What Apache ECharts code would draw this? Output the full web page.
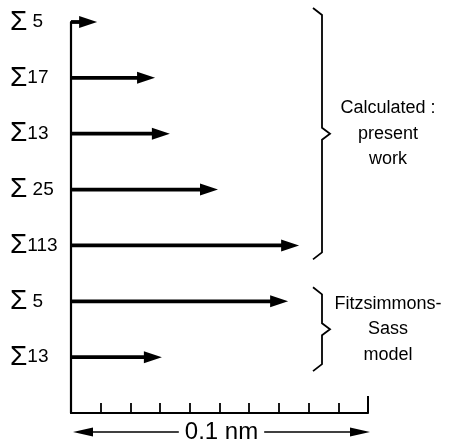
<!DOCTYPE html>
<html>
<head>
<meta charset="utf-8">
<script src="https://cdn.jsdelivr.net/npm/echarts@6/dist/echarts.min.js"></script>
<style>
  html, body { margin: 0; padding: 0; background: #fff; }
  #chart { width: 462px; height: 444px; }
</style>
</head>
<body>
<div id="chart"></div>
<script>
// Boundary types, top to bottom
const boundaries = ['Σ 5', 'Σ17', 'Σ13', 'Σ 25', 'Σ113', 'Σ 5', 'Σ13'];
// Rigid-body translation for each boundary, in nm
const shifts = [0.0088, 0.0283, 0.0333, 0.0495, 0.0768, 0.0731, 0.0306];
// Bracketed groups of rows and their captions
const groupFirstRow = [0, 5];
const groupLastRow = [4, 6];
const groupCaptions = [
  ['Calculated :', 'present', 'work'],
  ['Fitzsimmons-', 'Sass', 'model']
];
// Scale bar
const scaleMax = 0.1;
const scaleStep = 0.01;
const scaleLabel = '0.1 nm';

const FONT = '"Liberation Sans", Arial, sans-serif';
const chart = echarts.init(document.getElementById('chart'), null, { renderer: 'canvas' });

const rows = boundaries.length;

chart.setOption({
  animation: false,
  backgroundColor: '#fff',
  grid: { left: 71, right: 94, top: 22, bottom: 31 },
  xAxis: {
    type: 'value',
    position: 'bottom',
    min: 0,
    max: scaleMax,
    interval: scaleStep,
    axisLine: { show: true, onZero: false, lineStyle: { color: '#000', width: 2.2 } },
    axisTick: { show: true, inside: true, length: 10, lineStyle: { color: '#000', width: 1.8 } },
    axisLabel: { show: false },
    splitLine: { show: false }
  },
  yAxis: {
    type: 'value',
    inverse: true,
    min: 0,
    max: rows,
    interval: 1,
    axisLine: { show: true, onZero: false, lineStyle: { color: '#000', width: 2.2 } },
    axisTick: { show: false },
    splitLine: { show: false },
    axisLabel: {
      show: true,
      margin: 61,
      align: 'left',
      verticalAlign: 'middle',
      formatter: function (v) {
        const name = boundaries[v];
        if (!name) return '';
        return '{s|' + name.charAt(0) + '}{n|' + name.slice(1) + '}';
      },
      rich: {
        s: { fontSize: 28, fontFamily: FONT, color: '#000', verticalAlign: 'middle' },
        n: { fontSize: 19, fontFamily: FONT, color: '#000', verticalAlign: 'middle' }
      }
    }
  },
  series: [{
    type: 'custom',
    coordinateSystem: 'cartesian2d',
    encode: { x: 0, y: 1 },
    data: shifts.map(function (v, i) { return [v, i]; }),
    renderItem: function (params, api) {
      const start = api.coord([0, api.value(1)]);
      const end = api.coord([api.value(0), api.value(1)]);
      const headLen = 18, half = 6;
      const baseX = end[0] - headLen;
      return {
        type: 'group',
        children: [
          {
            type: 'line',
            shape: { x1: start[0], y1: start[1], x2: baseX + 2, y2: end[1] },
            style: { stroke: '#000', lineWidth: 3.8 }
          },
          {
            type: 'polygon',
            shape: { points: [[end[0], end[1]], [baseX, end[1] - half], [baseX, end[1] + half]] },
            style: { fill: '#000' }
          }
        ]
      };
    }
  }]
});

// Annotations positioned from the axes
function px(x, y) { return chart.convertToPixel({ gridIndex: 0 }, [x, y]); }

const graphics = [];
const origin = px(0, rows);
const far = px(scaleMax, rows);

// taller end tick on the scale
graphics.push({
  type: 'line',
  shape: { x1: far[0], y1: far[1], x2: far[0], y2: far[1] - 17 },
  style: { stroke: '#000', lineWidth: 2 }
});

// double-headed scale arrow with caption
const barY = origin[1] + 19;
const bx0 = origin[0] + 2, bx1 = far[0] + 2;
graphics.push({
  type: 'line',
  shape: { x1: bx0 + 14, y1: barY, x2: bx1 - 14, y2: barY },
  style: { stroke: '#000', lineWidth: 1.6 }
});
graphics.push({
  type: 'polygon',
  shape: { points: [[bx0, barY], [bx0 + 20, barY - 4.5], [bx0 + 20, barY + 4.5]] },
  style: { fill: '#000' }
});
graphics.push({
  type: 'polygon',
  shape: { points: [[bx1, barY], [bx1 - 20, barY - 4.5], [bx1 - 20, barY + 4.5]] },
  style: { fill: '#000' }
});
graphics.push({
  type: 'text',
  x: (bx0 + bx1) / 2,
  y: barY,
  style: {
    text: scaleLabel,
    font: '24px ' + FONT,
    fill: '#000',
    align: 'center',
    verticalAlign: 'middle',
    backgroundColor: '#fff',
    padding: [0, 6]
  }
});

// curly braces and captions
const braceX = far[0] - 46;
groupFirstRow.forEach(function (first, g) {
  const last = groupLastRow[g];
  const top = px(0, first - 0.25)[1];
  const bottom = px(0, last + 0.25)[1];
  const mid = px(0, (first + last) / 2)[1];
  graphics.push({
    type: 'polyline',
    shape: {
      points: [
        [braceX - 9, top], [braceX, top + 7],
        [braceX, mid - 6], [braceX + 8, mid],
        [braceX, mid + 6], [braceX, bottom - 7],
        [braceX - 9, bottom]
      ]
    },
    style: { stroke: '#000', lineWidth: 1.8, fill: null }
  });
  const lines = groupCaptions[g];
  const spacing = 25.5;
  lines.forEach(function (t, k) {
    graphics.push({
      type: 'text',
      x: braceX + 66,
      y: mid + (k - (lines.length - 1) / 2) * spacing,
      style: {
        text: t,
        font: '18px ' + FONT,
        fill: '#000',
        align: 'center',
        verticalAlign: 'middle'
      }
    });
  });
});

chart.setOption({ graphic: graphics });
</script>
</body>
</html>
